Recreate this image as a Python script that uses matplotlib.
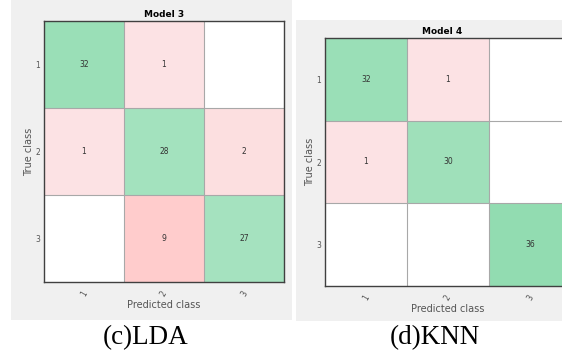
import numpy as np
import matplotlib.pyplot as plt
from matplotlib.colors import LinearSegmentedColormap
from matplotlib.patches import Rectangle

classes = ["1", "2", "3"]
lda = np.array([[32, 1, 0],
                [1, 28, 2],
                [0, 9, 27]])
knn = np.array([[32, 1, 0],
                [1, 30, 0],
                [0, 0, 36]])
titles = ["Model 3", "Model 4"]
captions = ["(c)LDA", "(d)KNN"]

# colour maps
green = LinearSegmentedColormap.from_list("g", [(226/255, 248/255, 237/255), (146/255, 220/255, 177/255)])
pink = LinearSegmentedColormap.from_list("p", [(252/255, 226/255, 228/255), (255/255, 204/255, 204/255)])


def cell_colors(m):
    rgb = np.ones(m.shape + (3,))
    for i in range(m.shape[0]):
        for j in range(m.shape[1]):
            v = m[i, j]
            if v == 0:
                continue
            if i == j:
                rgb[i, j] = green(v / 36)[:3]
            else:
                rgb[i, j] = pink(min((v - 1) / 8, 1))[:3]
    return rgb


fig = plt.figure(figsize=(5.62, 3.52), dpi=100)
W, H = 562, 352

def fx(px):
    return px / W

def fy(py):
    return 1 - py / H

# gray figure backgrounds (MATLAB style)
fig.patches.append(Rectangle((fx(11), fy(320)), fx(281), 320 / H, transform=fig.transFigure,
                             facecolor="#f0f0f0", edgecolor="none", zorder=-5))
fig.patches.append(Rectangle((fx(296), fy(321)), fx(266), 301 / H, transform=fig.transFigure,
                             facecolor="#f0f0f0", edgecolor="none", zorder=-5))

# axes boxes in pixels: left, top, right, bottom
boxes = [(44, 21, 284, 282), (325, 38, 571, 286)]
title_x = [0.5, 0.476]

for k, (m, box) in enumerate(zip([lda, knn], boxes)):
    l, t, r, b = box
    ax = fig.add_axes([fx(l), fy(b), fx(r - l), (b - t) / H])
    ax.patch.set_alpha(0)
    n = len(classes)
    ax.imshow(cell_colors(m), extent=(0, n, n, 0), aspect="auto", interpolation="nearest")
    for i in range(n):
        for j in range(n):
            if m[i, j] > 0:
                ax.text(j + 0.5, i + 0.5, str(m[i, j]), ha="center", va="center",
                        fontsize=5.5, color="#333333")
    for p in range(1, n):
        ax.axhline(p, color="#a8a8a8", lw=0.8)
        ax.axvline(p, color="#a8a8a8", lw=0.8)
    ax.set_xlim(0, n)
    ax.set_ylim(n, 0)
    ax.set_xticks(np.arange(n) + 0.5)
    ax.set_yticks(np.arange(n) + 0.5)
    ax.set_xticklabels(classes, rotation=60, fontsize=5.5, color="#555555")
    ax.set_yticklabels(classes, fontsize=5.5, color="#555555")
    ax.tick_params(length=0, pad=3)
    ax.tick_params(axis="x", pad=5)
    for s in ax.spines.values():
        s.set_color("#404040")
        s.set_linewidth(1.0)
    ax.set_title(titles[k], fontsize=6.5, fontweight="bold", pad=3, x=title_x[k])
    ax.set_xlabel("Predicted class", fontsize=7, color="#555555", labelpad=2)
    ax.set_ylabel("True class", fontsize=7, color="#555555", labelpad=1)

fig.text(fx(146), fy(338), captions[0], ha="center", va="center", fontsize=19.5,
         family="Liberation Serif")
fig.text(fx(435), fy(338), captions[1], ha="center", va="center", fontsize=19.5,
         family="Liberation Serif")

fig.savefig("out.png", dpi=100, facecolor="white")
